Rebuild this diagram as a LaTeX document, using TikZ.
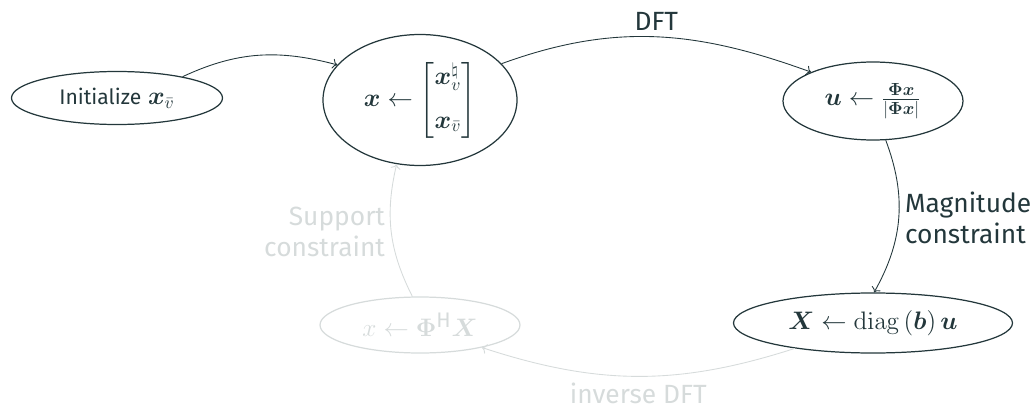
\documentclass[tikz,border=0pt]{standalone}
\usepackage{amsmath}
\usepackage{amssymb}
\usepackage{bm}
\usepackage[no-math]{fontspec}
\setmainfont{Fira Sans}
\usetikzlibrary{shapes.geometric, arrows.meta, positioning}
\definecolor{tealSombre}{RGB}{35, 55, 59}
\definecolor{grisPale}{RGB}{214, 219, 219}
\newcommand{\petit}{\fontsize{12}{14}\selectfont}

\begin{document}
\begin{tikzpicture}[
  etat/.style={ellipse, draw=tealSombre, line width=0.7pt, inner sep=0pt,
    text=tealSombre, font=\fontsize{14.4}{17}\selectfont},
  pale/.style={draw=grisPale, text=grisPale},
  arr/.style={->, line width=0.5pt, draw=tealSombre},
  lbl/.style={font=\fontsize{15}{18}\selectfont, text=tealSombre},
]
\useasboundingbox (0,0) rectangle (20.64,8.22);
\node[etat, minimum width=4.22cm, minimum height=1.06cm] (init) at (2.34, 6.26)
  {{\petit Initialize} $\bm{x}_{\bar{v}}$};
\node[etat, minimum width=3.88cm, minimum height=2.62cm] (xvec) at (8.4, 6.22)
  {$\bm{x} \leftarrow \begin{bmatrix} \bm{x}_{v}^{\natural} \\[8pt]
    \bm{x}_{\bar{v}} \end{bmatrix}$};
\node[etat, minimum width=3.6cm, minimum height=1.56cm] (unode) at (17.46, 6.2)
  {$\bm{u} \leftarrow \frac{\bm{\Phi}\bm{x}}{|\bm{\Phi}\bm{x}|}$};
\node[etat, minimum width=5.58cm, minimum height=1.2cm] (Xnode) at (17.46, 1.76)
  {$\bm{X} \leftarrow \operatorname{diag}\left(\bm{b}\right)\bm{u}$};
\node[etat, pale, minimum width=4.0cm, minimum height=1.12cm] (phinode) at (8.4, 1.72)
  {$x \leftarrow \bm{\Phi}^{\text{\petit H}}\bm{X}$};

\draw[arr] (init.18) to[out=25, in=165] (xvec.157);
\draw[arr] (xvec.24) to[out=20, in=160]
  node[lbl, above]{DFT} (unode.155);
\draw[arr] (unode.-72) to[bend left=25]
  node[lbl, right, align=left]{Magnitude\\constraint} (Xnode.88);
\draw[arr, pale] (Xnode.198) to[bend left=18]
  node[lbl, below, text=grisPale]{inverse DFT} (phinode.-20);
\draw[arr, pale] (phinode.105) to[bend left=20]
  node[lbl, left, align=right, text=grisPale]{Support\\constraint} (xvec.250);
\end{tikzpicture}
\end{document}
